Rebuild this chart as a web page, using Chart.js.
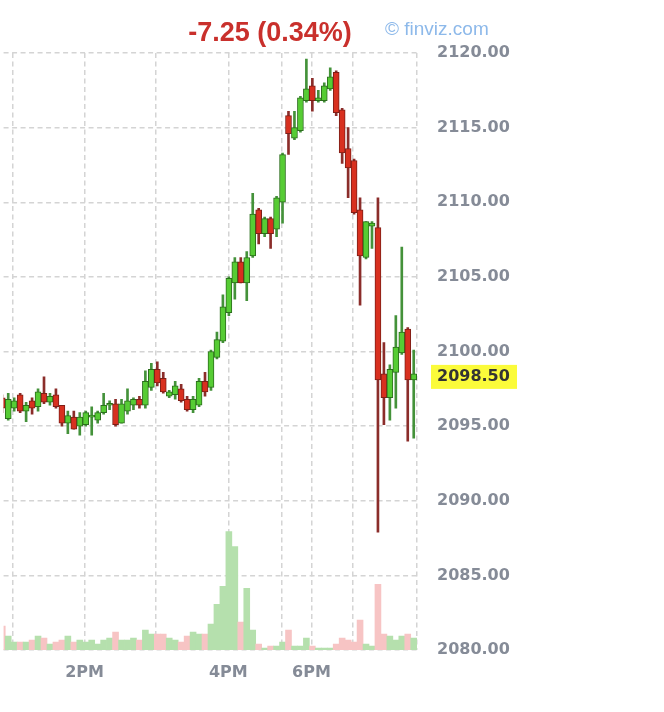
<!DOCTYPE html>
<html>
<head>
<meta charset="utf-8">
<script src="https://cdn.jsdelivr.net/npm/chart.js@4.4.1/dist/chart.umd.min.js"></script>
<style>
    body { margin: 0; background: #ffffff; }
    #wrap { width: 664px; height: 712px; }
</style>
</head>
<body>
<div id="wrap"><canvas id="chart" width="664" height="712"></canvas></div>
<script>
// 5-minute candles, left to right
const opens  = [2096.9, 2095.5, 2096.2, 2097.1, 2096.0, 2096.7, 2096.3, 2097.2, 2096.6, 2097.1,
                2096.4, 2095.2, 2095.6, 2095.0, 2095.1, 2095.6, 2095.4, 2095.9, 2096.4, 2096.5,
                2095.2, 2096.0, 2096.4, 2096.8, 2096.4, 2097.6, 2098.8, 2098.2, 2097.0, 2097.1,
                2097.5, 2096.8, 2096.1, 2096.4, 2098.0, 2097.6, 2099.6, 2100.7, 2102.6, 2104.6,
                2106.0, 2104.6, 2106.4, 2109.5, 2107.9, 2108.9, 2108.2, 2110.0, 2115.8, 2114.3,
                2114.8, 2116.8, 2117.8, 2116.8, 2116.8, 2117.6, 2118.7, 2116.2, 2113.6, 2112.8,
                2109.5, 2106.3, 2108.4, 2108.3, 2098.5, 2096.9, 2098.6, 2099.9, 2101.5, 2098.1];
const highs  = [2097.1, 2097.2, 2096.9, 2097.2, 2096.6, 2096.9, 2097.5, 2098.3, 2097.2, 2097.5,
                2096.4, 2096.0, 2096.0, 2095.9, 2096.0, 2096.3, 2096.0, 2097.2, 2096.7, 2096.8,
                2096.8, 2097.5, 2096.9, 2097.0, 2098.7, 2099.2, 2099.3, 2098.6, 2097.4, 2098.0,
                2097.8, 2097.0, 2097.0, 2098.2, 2098.6, 2100.1, 2101.3, 2103.8, 2105.0, 2106.3,
                2106.3, 2106.7, 2110.6, 2109.6, 2109.0, 2109.0, 2110.4, 2113.3, 2116.1, 2116.1,
                2117.1, 2119.6, 2118.3, 2117.5, 2118.0, 2119.0, 2118.8, 2116.3, 2115.0, 2112.9,
                2110.3, 2108.7, 2108.7, 2110.3, 2100.6, 2099.1, 2102.4, 2107.0, 2101.6, 2100.1];
const lows   = [2095.9, 2095.4, 2096.0, 2095.9, 2095.3, 2095.8, 2096.0, 2096.5, 2096.4, 2096.2,
                2095.0, 2094.5, 2094.8, 2094.4, 2095.0, 2094.4, 2095.2, 2095.8, 2096.1, 2095.0,
                2095.2, 2095.8, 2096.1, 2096.2, 2096.2, 2097.4, 2097.7, 2097.2, 2096.9, 2096.8,
                2096.6, 2096.0, 2095.9, 2096.3, 2097.0, 2097.4, 2099.5, 2100.6, 2102.4, 2103.5,
                2104.6, 2103.4, 2106.3, 2107.2, 2107.7, 2106.9, 2107.7, 2108.6, 2113.2, 2114.2,
                2114.7, 2116.7, 2116.1, 2116.7, 2116.7, 2117.5, 2115.8, 2112.6, 2110.3, 2109.2,
                2103.1, 2106.2, 2106.9, 2087.9, 2095.1, 2095.4, 2096.2, 2099.8, 2094.0, 2094.2];
const closes = [2096.2, 2096.8, 2096.7, 2096.0, 2096.4, 2096.2, 2097.3, 2096.6, 2097.0, 2096.3,
                2095.2, 2095.7, 2094.8, 2095.6, 2095.9, 2095.7, 2095.9, 2096.4, 2096.5, 2095.1,
                2096.5, 2096.7, 2096.8, 2096.4, 2098.0, 2098.8, 2097.9, 2097.3, 2097.3, 2097.7,
                2096.7, 2096.1, 2096.8, 2098.0, 2097.3, 2100.0, 2100.8, 2103.0, 2104.9, 2106.0,
                2104.6, 2106.3, 2109.2, 2107.9, 2108.9, 2107.9, 2110.3, 2113.2, 2114.6, 2115.0,
                2117.0, 2117.6, 2116.8, 2117.0, 2117.8, 2118.4, 2116.0, 2113.3, 2112.3, 2109.3,
                2106.4, 2108.7, 2108.6, 2098.1, 2096.9, 2098.8, 2100.3, 2101.3, 2098.1, 2098.5];
// volume, relative units
const volumes = [24, 14, 8, 8, 8, 10, 14, 12, 6, 8,
                 10, 14, 8, 10, 8, 10, 6, 10, 12, 18,
                 10, 10, 12, 10, 20, 16, 16, 16, 12, 10,
                 8, 14, 18, 16, 16, 26, 46, 64, 119, 104,
                 28, 62, 20, 6, 2, 4, 4, 8, 20, 4,
                 4, 12, 4, 2, 2, 2, 6, 12, 10, 8,
                 30, 6, 4, 66, 16, 14, 10, 14, 16, 12];

// time axis: gridline positions (in candle index units) and their labels
const xTickPos = [1.8, 13.8, 25.8, 37.9, 46.85, 51.85, 58.75, 69.55];
const xTickLabels = ['', '2PM', '', '4PM', '', '6PM', '', ''];

const titleText = '-7.25 (0.34%)';
const watermark = '\u00A9 finviz.com';

const idx = opens.map((_, i) => i);
const up = idx.map(i => closes[i] >= opens[i]);

const wickData = idx.map(i => ({ x: i, y: [lows[i], highs[i]] }));
const bodyData = idx.map(i => ({ x: i, y: [Math.min(opens[i], closes[i]), Math.max(opens[i], closes[i])] }));
const volData = idx.map(i => ({ x: i, y: volumes[i] }));

const tickFont = { family: '"DejaVu Sans", Verdana, sans-serif', size: 16, weight: 'bold' };
const gridColor = '#d4d4d4';

// title, watermark and last price tag
const overlayPlugin = {
    id: 'overlay',
    afterDraw(chart) {
        const ctx = chart.ctx;
        const y = chart.scales.y;
        ctx.save();
        ctx.font = 'bold 27px "Liberation Sans", Arial, sans-serif';
        ctx.fillStyle = '#c9302c';
        ctx.textAlign = 'center';
        ctx.textBaseline = 'alphabetic';
        ctx.fillText(titleText, 270, 41);

        ctx.font = '19px "Liberation Sans", Arial, sans-serif';
        ctx.fillStyle = '#8db9ea';
        ctx.textAlign = 'left';
        ctx.fillText(watermark, 385, 35);

        const last = closes[closes.length - 1];
        const py = y.getPixelForValue(last);
        ctx.fillStyle = '#fbfb3a';
        ctx.fillRect(431, py - 9, 86, 24);
        ctx.fillStyle = '#333333';
        ctx.font = 'bold 16px "DejaVu Sans", Verdana, sans-serif';
        ctx.textBaseline = 'middle';
        ctx.fillText(last.toFixed(2), 437, py + 3);
        ctx.restore();
    }
};

new Chart(document.getElementById('chart'), {
    type: 'bar',
    data: {
        datasets: [
            {
                label: 'Body',
                data: bodyData,
                yAxisID: 'y',
                order: 0,
                grouped: false,
                barThickness: 6,
                minBarLength: 2,
                borderWidth: 1,
                borderSkipped: false,
                backgroundColor: up.map(u => u ? '#56cc34' : '#d8301f'),
                borderColor: up.map(u => u ? '#2c6e1d' : '#7e1f17')
            },
            {
                label: 'Wick',
                data: wickData,
                yAxisID: 'y',
                order: 1,
                grouped: false,
                barThickness: 2,
                borderWidth: 0,
                backgroundColor: up.map(u => u ? '#44923a' : '#8b2d2a')
            },
            {
                label: 'Volume',
                data: volData,
                yAxisID: 'yv',
                order: 2,
                grouped: false,
                categoryPercentage: 1,
                barPercentage: 1,
                borderWidth: 0,
                backgroundColor: up.map(u => u ? '#b5e0ad' : '#f7c4c4')
            }
        ]
    },
    options: {
        responsive: false,
        animation: false,
        layout: { padding: { top: 53, left: 0, right: 0, bottom: 0 } },
        plugins: {
            legend: { display: false },
            tooltip: { enabled: false },
            title: { display: false }
        },
        scales: {
            x: {
                type: 'linear',
                offset: false,
                min: 0.22,
                max: 69.55,
                afterBuildTicks: scale => {
                    scale.ticks = xTickPos.map(v => ({ value: v }));
                },
                afterFit: scale => { scale.height = 62; },
                grid: { offset: false, color: gridColor, lineWidth: 1.5, drawTicks: false },
                border: { display: false, dash: [5, 3.5] },
                ticks: {
                    autoSkip: false,
                    maxRotation: 0,
                    padding: 13,
                    color: '#858b97',
                    font: tickFont,
                    callback: (value, index) => xTickLabels[index]
                }
            },
            y: {
                type: 'linear',
                position: 'right',
                min: 2080,
                max: 2120,
                afterFit: scale => { scale.width = 247; },
                grid: { color: gridColor, lineWidth: 1.5, drawTicks: false },
                border: { display: false, dash: [5, 3.5] },
                ticks: {
                    stepSize: 5,
                    padding: 20,
                    color: '#858b97',
                    font: tickFont,
                    callback: v => v.toFixed(2)
                }
            },
            yv: {
                type: 'linear',
                display: false,
                min: 0,
                max: 600
            }
        }
    },
    plugins: [overlayPlugin]
});
</script>
</body>
</html>
